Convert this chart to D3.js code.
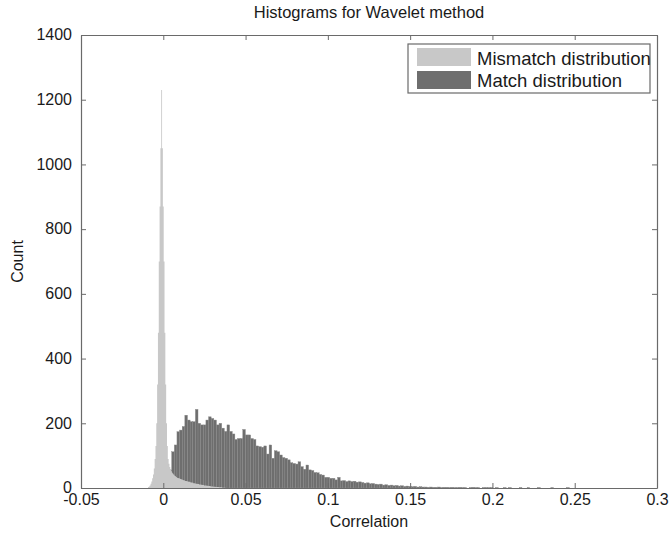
<!DOCTYPE html>
<html><head><meta charset="utf-8">
<script src="https://cdn.jsdelivr.net/npm/d3@7"></script>
<style>body{margin:0;background:#fff}text{font-family:"Liberation Sans",Arial,sans-serif;fill:#1a1a1a}</style>
</head><body><svg id="c" width="669" height="536"></svg>
<script>
const title = "Histograms for Wavelet method";
const xLabel = "Correlation";
const yLabel = "Count";
const xTicks = [-0.05, 0, 0.05, 0.1, 0.15, 0.2, 0.25, 0.3];
const xTickLabels = ["-0.05", "0", "0.05", "0.1", "0.15", "0.2", "0.25", "0.3"];
const yTicks = [0, 200, 400, 600, 800, 1000, 1200, 1400];
const seriesNames = ["Mismatch distribution", "Match distribution"];

// Match distribution: bins of width 0.0016 starting at 0.0035
const matchStart = 0.0035, matchWidth = 0.0016;
const matchCounts = [56,112,133,174,179,190,225,210,205,205,243,200,195,195,210,220,215,210,195,200,
  185,175,195,175,167,150,153,153,181,164,164,153,150,130,128,126,130,105,133,92,
  115,112,102,94,92,87,78,76,74,81,66,58,71,56,54,48,47,42,40,33,
  33,30,30,25,33,22,23,20,
  22,20,21,18,19, 17,15,16,13,14,12, 11,12,9,10,8,9, 7,8,6,7,5,6, 5,4,5,3,4,3,
  3,2,3,2,2,3,1,2,2, 1,2,1,1,2,1,1,0,1,2,1,1,0,1,1,1,
  1,0,1,0,0,1,0,1,0,0,0,1,0,0,1,0,0,0,1,0,0,0,0,1,0,0,0,0,0,1,0];

// Mismatch distribution: bins of width 0.0005 starting at -0.00925
const mismatchStart = -0.00925, mismatchWidth = 0.0005;
const mismatchCounts = [3,5,8,13,20,30,42,60,
  90,130,200,320,480,700,870,1050,1230,1050,870,700,480,320,200,130,90,
  75,65,58,52,47,44,41,38,36,34,32,
  31,30,29,28,27,26,25,24,23,22,22,21,20,19,19,18,17,17,16,15,15,14,13,13,12,12,11,11,10,10,
  9,9,8,8,8,7,7,6,6,6,5,5,5,4,4,4,3,3,3,3,2,2,2,2,1,1,1,1,0];

const colors = ["#c8c8c8", "#6e6e6e"];

const svg = d3.select("#c");
const m = {l: 81, r: 12, t: 35, b: 48};
const W = 669, H = 536;
const x = d3.scaleLinear().domain([-0.05, 0.3]).range([m.l, W - m.r]);
const y = d3.scaleLinear().domain([0, 1400]).range([H - m.b, m.t]);

const toBins = (start, w, arr) => arr.map((v, i) => ({x0: start + i * w, x1: start + (i + 1) * w, v}));

const g = svg.append("g");
g.selectAll("rect.match").data(toBins(matchStart, matchWidth, matchCounts)).join("rect")
  .attr("class", "match")
  .attr("x", d => x(d.x0)).attr("width", d => x(d.x1) - x(d.x0))
  .attr("y", d => y(d.v)).attr("height", d => y(0) - y(d.v))
  .attr("fill", colors[1]).attr("stroke", "#8a8a8a").attr("stroke-width", 0.4);

// mismatch histogram as one stepped area (fine bins)
const misBins = toBins(mismatchStart, mismatchWidth, mismatchCounts);
const stepPts = [];
misBins.forEach(b => { stepPts.push([b.x0, b.v]); stepPts.push([b.x1, b.v]); });
const area = d3.area().x(d => x(d[0])).y0(y(0)).y1(d => y(d[1]));
g.append("path").datum(stepPts).attr("d", area).attr("fill", colors[0]);

const axisColor = "#6a6a6a";
const tl = 5;
const fontTick = 16;
const xb = svg.append("g").attr("transform", `translate(0,${y(0)})`)
  .call(d3.axisBottom(x).tickValues(xTicks).tickFormat((d, i) => xTickLabels[i]).tickSizeInner(-tl).tickSizeOuter(0).tickPadding(6));
const xt = svg.append("g").attr("transform", `translate(0,${y(1400)})`)
  .call(d3.axisTop(x).tickValues(xTicks).tickFormat("").tickSizeInner(-tl).tickSizeOuter(0));
const yl = svg.append("g").attr("transform", `translate(${x(-0.05)},0)`)
  .call(d3.axisLeft(y).tickValues(yTicks).tickFormat(d3.format("d")).tickSizeInner(-tl).tickSizeOuter(0).tickPadding(9));
const yr = svg.append("g").attr("transform", `translate(${x(0.3)},0)`)
  .call(d3.axisRight(y).tickValues(yTicks).tickFormat("").tickSizeInner(-tl).tickSizeOuter(0));
[xb, xt, yl, yr].forEach(a => {
  a.selectAll("path.domain").attr("stroke", axisColor).attr("stroke-width", 1.2);
  a.selectAll(".tick line").attr("stroke", axisColor);
  a.selectAll("text").attr("font-size", fontTick).attr("fill", "#1a1a1a").style("font-family", "Liberation Sans, Arial, sans-serif");
});
xb.selectAll("text").attr("dy", "0.71em");
yl.selectAll("text").attr("dy", "0.3em");

svg.append("text").attr("x", (x(-0.05) + x(0.3)) / 2).attr("y", 18).attr("text-anchor", "middle")
  .attr("font-size", 16.5).text(title);
svg.append("text").attr("x", (x(-0.05) + x(0.3)) / 2).attr("y", 527).attr("text-anchor", "middle")
  .attr("font-size", 16).text(xLabel);
svg.append("text").attr("transform", `translate(23,${(y(0) + y(1400)) / 2}) rotate(-90)`).attr("text-anchor", "middle")
  .attr("font-size", 16).text(yLabel);

// legend
const lg = svg.append("g");
const lx = 408, ly = 44, lw = 242, lh = 49;
lg.append("rect").attr("x", lx).attr("y", ly).attr("width", lw).attr("height", lh)
  .attr("fill", "#fff").attr("stroke", axisColor).attr("stroke-width", 1.2);
seriesNames.forEach((n, i) => {
  lg.append("rect").attr("x", lx + 9).attr("y", ly + 4 + i * 23).attr("width", 54).attr("height", 18).attr("fill", colors[i]);
  lg.append("text").attr("x", lx + 69).attr("y", ly + 21 + i * 22).attr("font-size", 18.5).text(n);
});
</script></body></html>
